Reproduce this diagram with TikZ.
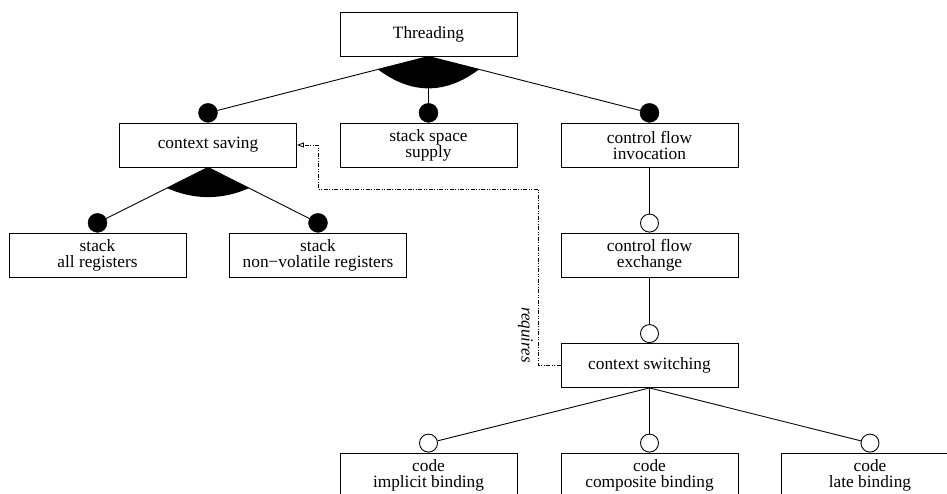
\documentclass[tikz,border=0pt]{standalone}
\usepackage{fontspec}
\setmainfont{Liberation Serif}
\usetikzlibrary{calc,arrows.meta}
\tikzset{
  feat/.style={draw, line width=0.9pt, minimum width=177pt, minimum height=44pt, inner sep=0pt,
    align=center, font=\fontsize{17.3}{16}\selectfont},
  fdot/.style={circle, fill=black, draw=black, minimum size=19pt, inner sep=0pt, anchor=south},
  odot/.style={circle, fill=white, draw=black, line width=0.9pt, minimum size=18pt, inner sep=0pt, anchor=south},
  conn/.style={line width=0.9pt},
  dep/.style={line width=0.9pt, dash pattern=on 4pt off 1.5pt on 1pt off 1.5pt on 1pt off 1.5pt,
    -{Triangle[open, length=7pt, width=5pt, line width=0.8pt]}},
}
\begin{document}
\begin{tikzpicture}[x=1pt, y=-1pt]
\useasboundingbox (0,0) rectangle (947,493);
% boxes
\node[feat] (thr) at (428.5,34) {Threading};
\node[feat] (cs)  at (208,145) {context saving};
\node[feat] (sss) at (428.5,145) {stack space\\supply};
\node[feat] (cfi) at (649.5,145) {control flow\\invocation};
\node[feat] (sar) at (97.5,255) {stack\\all registers};
\node[feat] (snv) at (318,255) {stack\\non−volatile registers};
\node[feat] (cfe) at (649.5,255) {control flow\\exchange};
\node[feat] (csw) at (649.5,365.5) {context switching};
\node[feat] (cib) at (428.5,475) {code\\implicit binding};
\node[feat] (ccb) at (649.5,475) {code\\composite binding};
\node[feat] (clb) at (870,475) {code\\late binding};
% dots
\node[fdot] (dcs)  at (cs.north) {};
\node[fdot] (dsss) at (sss.north) {};
\node[fdot] (dcfi) at (cfi.north) {};
\node[fdot] (dsar) at (sar.north) {};
\node[fdot] (dsnv) at (snv.north) {};
\node[odot] (dcfe) at (cfe.north) {};
\node[odot] (dcsw) at (csw.north) {};
\node[odot] (dcib) at (cib.north) {};
\node[odot] (dccb) at (ccb.north) {};
\node[odot] (dclb) at (clb.north) {};
% connectors
\draw[conn] (thr.south) -- (dcs);
\draw[conn] (thr.south) -- (dsss);
\draw[conn] (thr.south) -- (dcfi);
\draw[conn] (cs.south) -- (dsar);
\draw[conn] (cs.south) -- (dsnv);
\draw[conn] (cfi.south) -- (dcfe);
\draw[conn] (cfe.south) -- (dcsw);
\draw[conn] (csw.south) -- (dcib);
\draw[conn] (csw.south) -- (dccb);
\draw[conn] (csw.south) -- (dclb);
% and-group sectors
\coordinate (tL) at ($(thr.south)!52.2pt!(dcs.center)$);
\coordinate (tR) at ($(thr.south)!52.2pt!(dcfi.center)$);
\fill (thr.south) -- (tL) .. controls ($(tL)+(33.7,25.3)$) and ($(tR)+(-33.7,25.3)$) .. (tR) -- cycle;
\coordinate (cL) at ($(cs.south)!46pt!(dsar.center)$);
\coordinate (cR) at ($(cs.south)!46pt!(dsnv.center)$);
\fill (cs.south) -- (cL) .. controls ($(cL)+(27.3,12)$) and ($(cR)+(-27.3,12)$) .. (cR) -- cycle;
% requires dependency
\coordinate (j1) at (538.5,189);
\coordinate (j2) at (318,189);
\draw[dep] (csw.west) -| (j1) -- (j2) |- (cs.east);
\node[rotate=-90, font=\fontsize{17}{16}\selectfont\itshape, inner sep=0pt] (req) at (525.5,335) {requires};
\end{tikzpicture}
\end{document}
